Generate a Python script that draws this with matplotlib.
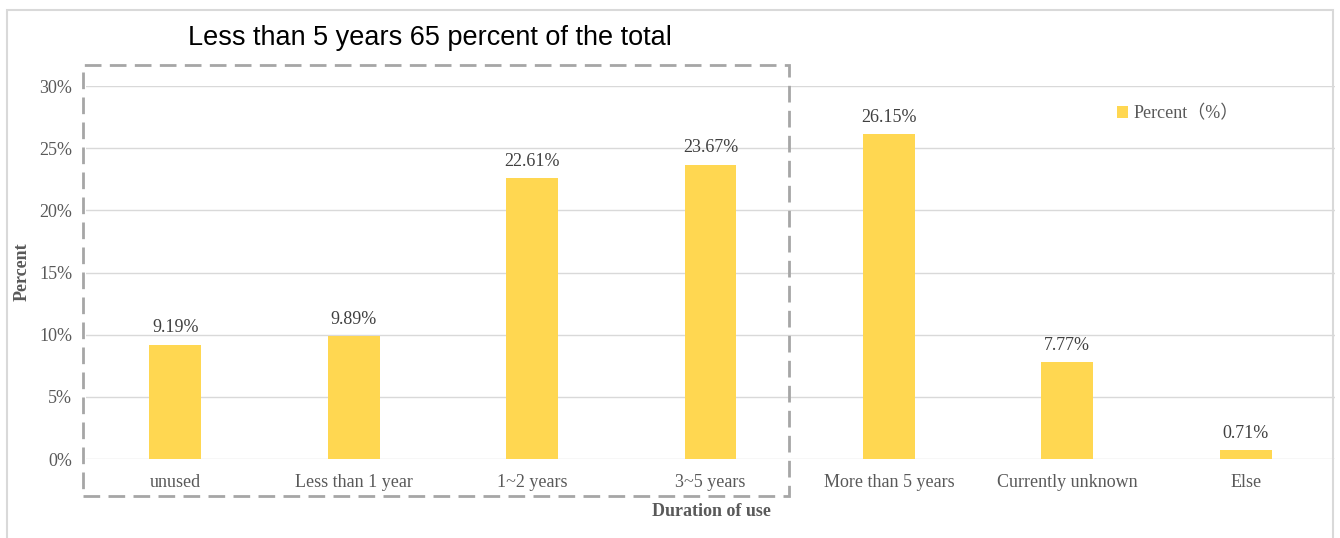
"""Bar chart of duration of use, with the under-5-years group boxed"""

import matplotlib.pyplot as plt
from matplotlib.patches import Rectangle

categories = ["unused", "Less than 1 year", "1~2 years", "3~5 years",
              "More than 5 years", "Currently unknown", "Else"]
percent = [9.19, 9.89, 22.61, 23.67, 26.15, 7.77, 0.71]
yticks = [0, 5, 10, 15, 20, 25, 30]

bar_color = "#FFD751"
text_color = "#595959"
serif = ["Liberation Serif", "DejaVu Serif"]

fig = plt.figure(figsize=(13.4, 5.38), dpi=100)
ax = fig.add_axes([86 / 1340, 79 / 538, 1249 / 1340, 373 / 538])

x = range(len(categories))
ax.bar(x, percent, width=0.29, color=bar_color, zorder=2, label="Percent（%）")
for xi, v in zip(x, percent):
    ax.annotate(f"{v:.2f}%", (xi, v), xytext=(0, 6), textcoords="offset points",
                ha="center", va="bottom", fontsize=13, color="#404040", family=serif)

ax.set_xlim(-0.5, len(categories) - 0.5)
ax.set_ylim(0, 30)
ax.set_yticks(yticks)
ax.set_yticklabels([f"{t}%" for t in yticks], family=serif, fontsize=13, color=text_color)
ax.set_xticks(list(x))
ax.set_xticklabels(categories, family=serif, fontsize=13, color=text_color)
ax.tick_params(axis="both", length=0)
ax.tick_params(axis="x", pad=11)
ax.tick_params(axis="y", pad=10)
ax.grid(axis="y", color="#d9d9d9", linewidth=1, zorder=0)
for s in ax.spines.values():
    s.set_visible(False)

fig.text(22 / 1340, 1 - 272 / 538, "Percent", rotation=90, ha="center", va="center",
         family=serif, fontsize=13, fontweight="bold", color=text_color)
fig.text(711 / 1340, 1 - 511 / 538, "Duration of use", ha="center", va="center",
         family=serif, fontsize=13, fontweight="bold", color=text_color)
fig.text(188 / 1340, 1 - 38 / 538, "Less than 5 years 65 percent of the total",
         ha="left", va="center", family="Liberation Sans", fontsize=19.5, color="black")

leg = ax.legend(loc="upper left", bbox_to_anchor=(1101 / 1340, 1 - 89 / 538),
                bbox_transform=fig.transFigure, frameon=False, handlelength=0.6,
                handleheight=0.6, handletextpad=0.3,
                prop={"family": ["Liberation Serif", "Noto Sans CJK SC"], "size": 13})
for t in leg.get_texts():
    t.set_color(text_color)

# dashed group box and outer frame
fig.patches.append(Rectangle((83 / 1340, 42 / 538), 706 / 1340, 431 / 538,
                             transform=fig.transFigure, fill=False, edgecolor="#a6a6a6",
                             linewidth=2, linestyle=(0, (6, 3))))
fig.patches.append(Rectangle((7 / 1340, -0.02), 1326 / 1340, 1 - 10 / 538 + 0.02,
                             transform=fig.transFigure, fill=False, edgecolor="#d9d9d9",
                             linewidth=1.5))

fig.savefig("out.png", dpi=100)
